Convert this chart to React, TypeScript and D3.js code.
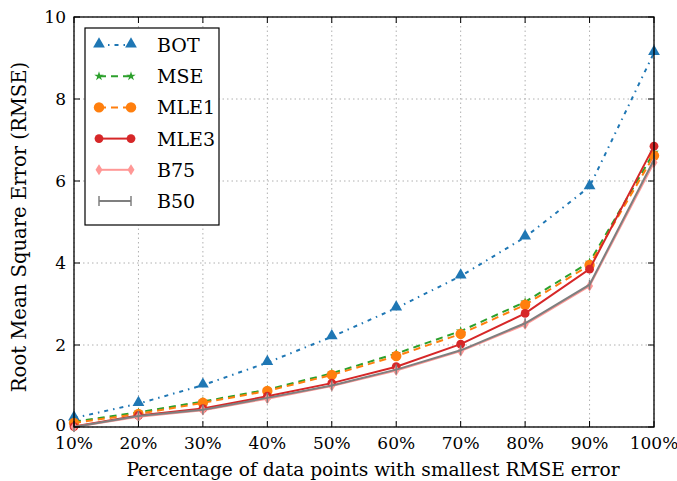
import React from "react";
import * as d3 from "d3";

const categories = ["10%", "20%", "30%", "40%", "50%", "60%", "70%", "80%", "90%", "100%"];
const yTicks = [0, 2, 4, 6, 8, 10];
const seriesNames = ["BOT", "MSE", "MLE1", "MLE3", "B75", "B50"];
const BOT = [0.22, 0.57, 1.02, 1.57, 2.2, 2.9, 3.68, 4.63, 5.86, 9.13];
const MSE = [0.13, 0.36, 0.62, 0.91, 1.31, 1.79, 2.34, 3.05, 4.02, 6.7];
const MLE1 = [0.1, 0.32, 0.59, 0.88, 1.27, 1.73, 2.27, 2.98, 3.95, 6.62];
const MLE3 = [0.01, 0.28, 0.45, 0.75, 1.07, 1.47, 2.02, 2.77, 3.85, 6.85];
const B75 = [0.0, 0.25, 0.41, 0.69, 1.0, 1.38, 1.85, 2.5, 3.44, 6.45];
const B50 = [0.0, 0.27, 0.42, 0.71, 1.01, 1.4, 1.87, 2.53, 3.47, 6.52];

const seriesData = [BOT, MSE, MLE1, MLE3, B75, B50];
const colors = ["#1f77b4", "#2ca02c", "#ff7f0e", "#d62728", "#ff9896", "#7f7f7f"];
const dashes = ["4,5,1.5,5", "7,5", "7,5", null, null, null];
const markers = ["tri", "star", "circle", "hex", "diamond", "vline"];

const W = 677, H = 481;
const m = { left: 74, right: 654, top: 17, bottom: 427 };
const font = "'DejaVu Serif', 'Liberation Serif', serif";

function Marker({ type, x, y, color }: { type: string; x: number; y: number; color: string }) {
  if (type === "tri") {
    const p = d3.symbol().type(d3.symbolTriangle).size(60)();
    return <path d={p!} transform={`translate(${x},${y - 1})`} fill={color} />;
  }
  if (type === "star") {
    const p = d3.symbol().type(d3.symbolStar).size(28)();
    return <path d={p!} transform={`translate(${x},${y})`} fill={color} />;
  }
  if (type === "circle") {
    return <circle cx={x} cy={y} r={5.2} fill={color} />;
  }
  if (type === "hex") {
    return <circle cx={x} cy={y} r={4.4} fill={color} />;
  }
  if (type === "diamond") {
    const s = 5.5, w = 3.5;
    return <path d={`M${x},${y - s}L${x + w},${y}L${x},${y + s}L${x - w},${y}Z`} fill={color} />;
  }
  return <line x1={x} x2={x} y1={y - 5} y2={y + 5} stroke={color} strokeWidth={1.5} />;
}

export default function App() {
  const x = d3.scalePoint<string>().domain(categories).range([m.left, m.right]);
  const y = d3.scaleLinear().domain([0, 10]).range([m.bottom, m.top]);
  const line = d3.line<number>().x((_, i) => x(categories[i])!).y((d) => y(d));

  const legX = 85, legY = 28, legW = 134, legH = 197;
  const rowH = 31.2;

  return (
    <svg width={W} height={H} style={{ position: "absolute", left: 0, top: 0, background: "#fff" }}>
      <rect x={0} y={0} width={W} height={H} fill="#fff" />
      {categories.map((c) => (
        <line key={"gx" + c} x1={x(c)} x2={x(c)} y1={m.top} y2={m.bottom} stroke="#b0b0b0" strokeWidth={1} strokeDasharray="1.5,3" />
      ))}
      {yTicks.map((t) => (
        <line key={"gy" + t} x1={m.left} x2={m.right} y1={y(t)} y2={y(t)} stroke="#b0b0b0" strokeWidth={1} strokeDasharray="1.5,3" />
      ))}
      {seriesData.map((s, k) => (
        <g key={seriesNames[k]}>
          <path d={line(s)!} fill="none" stroke={colors[k]} strokeWidth={2} strokeDasharray={dashes[k] ?? undefined} />
          {s.map((v, i) => (
            <Marker key={i} type={markers[k]} x={x(categories[i])!} y={y(v)} color={colors[k]} />
          ))}
        </g>
      ))}
      <rect x={m.left} y={m.top} width={m.right - m.left} height={m.bottom - m.top} fill="none" stroke="#000" strokeWidth={1.3} />
      {categories.map((c) => (
        <g key={"tx" + c}>
          <line x1={x(c)} x2={x(c)} y1={m.bottom} y2={m.bottom - 6} stroke="#000" strokeWidth={1} />
          <line x1={x(c)} x2={x(c)} y1={m.top} y2={m.top + 6} stroke="#000" strokeWidth={1} />
          <text x={x(c)} y={m.bottom + 22} textAnchor="middle" fontFamily={font} fontSize={17}>{c}</text>
        </g>
      ))}
      {yTicks.map((t) => (
        <g key={"ty" + t}>
          <line x1={m.left} x2={m.left + 6} y1={y(t)} y2={y(t)} stroke="#000" strokeWidth={1} />
          <line x1={m.right} x2={m.right - 6} y1={y(t)} y2={y(t)} stroke="#000" strokeWidth={1} />
          <text x={m.left - 8} y={y(t) + (t === 0 ? 4 : 6)} textAnchor="end" fontFamily={font} fontSize={17}>{t}</text>
        </g>
      ))}
      <text x={373} y={476} textAnchor="middle" fontFamily={font} fontSize={18.6}>
        Percentage of data points with smallest RMSE error
      </text>
      <text transform={`translate(26,227) rotate(-90)`} textAnchor="middle" fontFamily={font} fontSize={19.6}>
        Root Mean Square Error (RMSE)
      </text>
      <rect x={legX} y={legY} width={legW} height={legH} fill="#fff" stroke="#000" strokeWidth={1.2} />
      {seriesNames.map((n, k) => {
        const cy = legY + 17 + k * rowH;
        const x1 = 99, x2 = 131;
        return (
          <g key={"leg" + n}>
            <line x1={x1} x2={x2} y1={cy} y2={cy} stroke={colors[k]} strokeWidth={2} strokeDasharray={dashes[k] ?? undefined} />
            <Marker type={markers[k]} x={x1} y={cy} color={colors[k]} />
            <Marker type={markers[k]} x={x2} y={cy} color={colors[k]} />
            <text x={157} y={cy + 7} fontFamily={font} fontSize={19}>{n}</text>
          </g>
        );
      })}
    </svg>
  );
}
